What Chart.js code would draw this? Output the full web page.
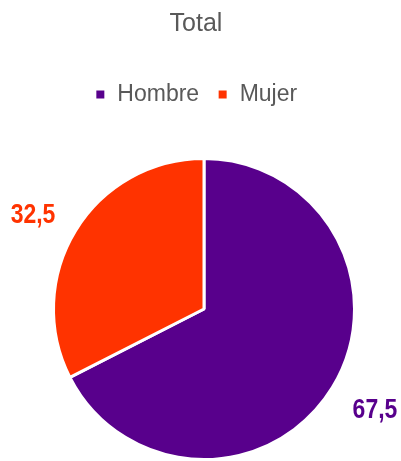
<!DOCTYPE html>
<html>
<head>
<meta charset="utf-8">
<script src="https://cdn.jsdelivr.net/npm/chart.js@4/dist/chart.umd.min.js"></script>
<style>
  html, body { margin: 0; padding: 0; background: #fff; }
  #wrap { width: 401px; height: 461px; }
</style>
</head>
<body>
<div id="wrap"><canvas id="pieChart"></canvas></div>
<script>
const chartTitle = 'Total';
const categories = ['Hombre', 'Mujer'];
const values = [67.5, 32.5];
const colors = ['#58008C', '#FF3300'];

const FONT = "'Liberation Sans', Arial, sans-serif";

// title and legend sit a bit left of the pie centre, like the original
const shiftBoxes = {
    id: 'shiftBoxes',
    beforeInit(chart) {
        const fit = chart.legend.fit;
        chart.legend.fit = function() {
            fit.call(this);
            this.height += 41; // gap between legend and pie
        };
    },
    afterLayout(chart) {
        [chart.titleBlock, chart.legend].forEach(box => {
            box.left -= 8;
            box.right -= 8;
        });
    }
};

// value labels outside the slices (narrow bold look)
const outerLabels = {
    id: 'outerLabels',
    afterDatasetsDraw(chart) {
        const ctx = chart.ctx;
        const meta = chart.getDatasetMeta(0);
        meta.data.forEach((arc, i) => {
            const mid = (arc.startAngle + arc.endAngle) / 2;
            const r = arc.outerRadius + 50;
            const x = arc.x + Math.cos(mid) * r;
            const y = arc.y + Math.sin(mid) * r * 0.93 + 4;
            ctx.save();
            ctx.translate(x, y);
            ctx.scale(0.82, 1);
            ctx.font = 'bold 28px ' + FONT;
            ctx.textAlign = 'center';
            ctx.textBaseline = 'middle';
            ctx.fillStyle = colors[i];
            ctx.fillText(values[i].toFixed(1).replace('.', ','), 0, 0);
            ctx.restore();
        });
    }
};

new Chart(document.getElementById('pieChart'), {
    type: 'pie',
    data: {
        labels: categories,
        datasets: [{
            data: values,
            backgroundColor: colors,
            borderColor: '#ffffff',
            borderWidth: 3
        }]
    },
    options: {
        responsive: true,
        maintainAspectRatio: false,
        animation: false,
        layout: { padding: { left: 7, right: 0, top: 0, bottom: 0 } },
        plugins: {
            title: {
                display: true,
                text: chartTitle,
                color: '#595959',
                font: { family: FONT, size: 25, weight: 'normal' },
                padding: { top: 9, bottom: 26 }
            },
            legend: {
                position: 'top',
                labels: {
                    color: '#595959',
                    font: { family: FONT, size: 23 },
                    boxWidth: 11,
                    boxHeight: 11,
                    padding: 18
                }
            },
            tooltip: { enabled: false }
        }
    },
    plugins: [shiftBoxes, outerLabels]
});
</script>
</body>
</html>
